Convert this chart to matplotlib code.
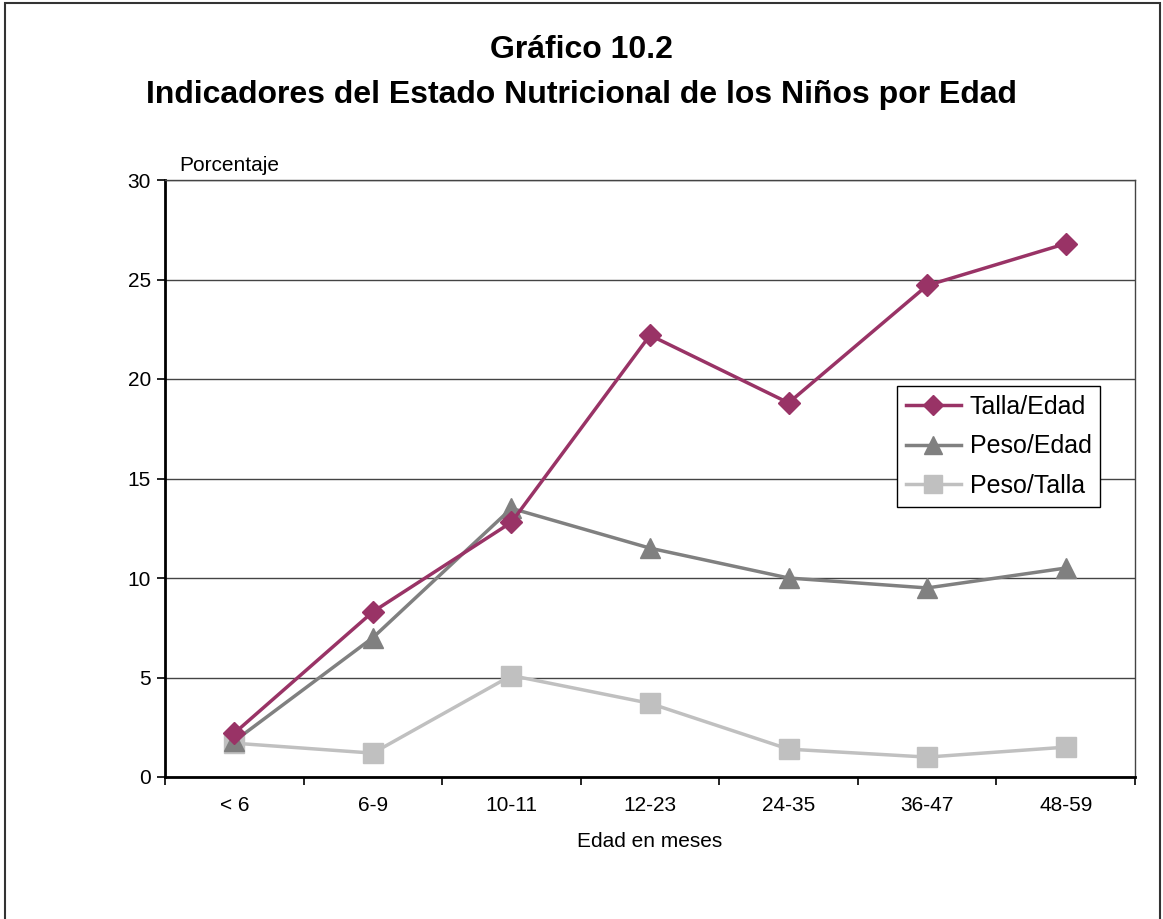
import matplotlib.pyplot as plt
from matplotlib.patches import Rectangle

plt.rcParams['font.family'] = ['Liberation Sans', 'DejaVu Sans']

edades = ['< 6', '6-9', '10-11', '12-23', '24-35', '36-47', '48-59']
talla_edad = [2.2, 8.3, 12.8, 22.2, 18.8, 24.7, 26.8]
peso_edad = [1.8, 7.0, 13.5, 11.5, 10.0, 9.5, 10.5]
peso_talla = [1.7, 1.2, 5.1, 3.7, 1.4, 1.0, 1.5]

W, H = 1163, 919
fig = plt.figure(figsize=(W / 100, H / 100), dpi=100)
ax = fig.add_axes([165 / W, 1 - 777 / H, (1135 - 165) / W, (777 - 180) / H])

# marco exterior de la figura
fig.patches.append(Rectangle((5 / W, -0.01), (1160 - 5) / W, 1 - 3 / H + 0.01,
                             transform=fig.transFigure, fill=False,
                             edgecolor='#333333', linewidth=1.5))

x = range(len(edades))
ax.plot(x, talla_edad, color='#993366', linewidth=2.5, marker='D',
        markersize=11, label='Talla/Edad', zorder=5)
ax.plot(x, peso_edad, color='#808080', linewidth=2.5, marker='^',
        markersize=14, label='Peso/Edad', zorder=4)
ax.plot(x, peso_talla, color='#C0C0C0', linewidth=2.5, marker='s',
        markersize=14, label='Peso/Talla', zorder=3)

ax.set_xlim(-0.5, len(edades) - 0.5)
ax.set_ylim(0, 30)
ax.set_yticks(range(0, 31, 5))
ax.set_xticks(x)
ax.set_xticklabels(edades)
ax.set_xticks([i - 0.5 for i in range(len(edades) + 1)], minor=True)
ax.tick_params(axis='x', which='major', length=0, pad=14, labelsize=15)
ax.tick_params(axis='x', which='minor', length=6, width=1.2)
ax.tick_params(axis='y', length=6, width=1.2, labelsize=15, pad=4)
ax.grid(axis='y', color='#444444', linewidth=1)
ax.set_axisbelow(True)
for side in ['left', 'bottom']:
    ax.spines[side].set_linewidth(2)
for side in ['top', 'right']:
    ax.spines[side].set_linewidth(1)
    ax.spines[side].set_color('#444444')

ax.set_xlabel('Edad en meses', fontsize=15, labelpad=12)
ax.text(0.015, 1.008, 'Porcentaje', transform=ax.transAxes, fontsize=15,
        va='bottom', ha='left')

fig.text(0.5, 1 - 50 / H, 'Gráfico 10.2', ha='center', va='center',
         fontsize=23, fontweight='bold')
fig.text(0.5, 1 - 95 / H, 'Indicadores del Estado Nutricional de los Niños por Edad',
         ha='center', va='center', fontsize=23, fontweight='bold')

leg = ax.legend(loc='upper left', bbox_to_anchor=((897 - 165) / 970, (777 - 386) / 597),
                fontsize=18, frameon=True, fancybox=False, edgecolor='black',
                framealpha=1, handlelength=2.2, borderpad=0.35, labelspacing=0.62,
                handletextpad=0.35, borderaxespad=0, markerscale=0.9)
leg.get_frame().set_linewidth(1)

fig.savefig('out.png', dpi=100)
